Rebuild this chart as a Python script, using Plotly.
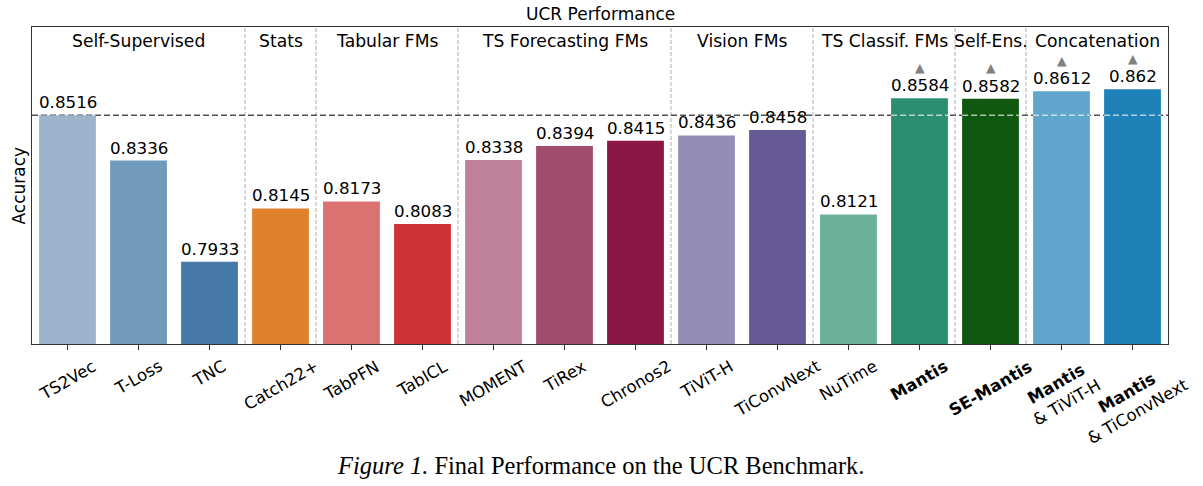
import plotly.graph_objects as go

# data
models = ["TS2Vec", "T-Loss", "TNC", "Catch22+", "TabPFN", "TabICL", "MOMENT", "TiRex",
          "Chronos2", "TiViT-H", "TiConvNext", "NuTime", "Mantis", "SE-Mantis",
          "Mantis & TiViT-H", "Mantis & TiConvNext"]
tick_labels = ["TS2Vec", "T-Loss", "TNC", "Catch22+", "TabPFN", "TabICL", "MOMENT", "TiRex",
               "Chronos2", "TiViT-H", "TiConvNext", "NuTime", "<b>Mantis</b>", "<b>SE-Mantis</b>",
               "<b>Mantis</b><br>& TiViT-H", "<b>Mantis</b><br>& TiConvNext"]
accuracy = [0.8516, 0.8336, 0.7933, 0.8145, 0.8173, 0.8083, 0.8338, 0.8394,
            0.8415, 0.8436, 0.8458, 0.8121, 0.8584, 0.8582, 0.8612, 0.862]
value_text = ["0.8516", "0.8336", "0.7933", "0.8145", "0.8173", "0.8083", "0.8338", "0.8394",
              "0.8415", "0.8436", "0.8458", "0.8121", "0.8584", "0.8582", "0.8612", "0.862"]
improved = [False] * 12 + [True] * 4
colors = ["#9db5cc", "#7099ba", "#4779a8", "#e0812e", "#da7272", "#cd3336", "#be8199", "#a24c6e",
          "#8b1645", "#948db6", "#665a96", "#6db09a", "#2c8e71", "#10570f", "#60a5cb", "#1e81b8"]
groups = ["Self-Supervised", "Stats", "Tabular FMs", "TS Forecasting FMs", "Vision FMs",
          "TS Classif. FMs", "Self-Ens.", "Concatenation"]
group_sizes = [3, 1, 2, 3, 2, 2, 1, 2]
baseline = accuracy[0]

x = list(range(len(models)))

fig = go.Figure()
fig.add_trace(go.Bar(x=x, y=accuracy, marker=dict(color=colors, line=dict(width=0)),
                     width=0.8, showlegend=False, hoverinfo="x+y"))

font = dict(family="DejaVu Sans", color="black")

# value labels, triangles, rotated tick labels
for i, v in enumerate(accuracy):
    fig.add_annotation(x=i, y=v, text=value_text[i], showarrow=False, yanchor="bottom",
                       yshift=1, font=dict(font, size=16.7))
    if improved[i]:
        fig.add_annotation(x=i, y=v, text="▲", showarrow=False, yanchor="middle",
                           yshift=31, font=dict(family="DejaVu Sans", size=12.5, color="#808080"))
    fig.add_annotation(x=i, y=0, yref="paper", text=tick_labels[i], showarrow=False,
                       textangle=-30, xanchor="center", yanchor="top", yshift=-10,
                       font=dict(font, size=16.5))

# group labels and separators
start = 0
for g, n in zip(groups, group_sizes):
    center = start + (n - 1) / 2
    fig.add_annotation(x=center, y=0.957, yref="paper", text=g, showarrow=False,
                       yanchor="middle", font=dict(font, size=17.2))
    start += n
    if start < len(models):
        fig.add_shape(type="line", x0=start - 0.5, x1=start - 0.5, y0=0, y1=1, yref="paper",
                      line=dict(color="#b0b0b0", width=1, dash="4px,2px"), layer="below")

# baseline reference line
fig.add_shape(type="line", x0=0, x1=1, xref="paper", y0=baseline, y1=baseline,
              line=dict(color="#505050", width=1.5, dash="6px,3px"), layer="below")
for i, v in enumerate(accuracy):
    if v > baseline:
        fig.add_shape(type="line", x0=i - 0.4, x1=i + 0.4, y0=baseline, y1=baseline,
                      line=dict(color="rgba(255,255,255,0.65)", width=1.5, dash="6px,3px"))

fig.add_annotation(x=0.5, y=1, xref="paper", yref="paper", text="UCR Performance",
                   showarrow=False, yanchor="bottom", yshift=1, font=dict(font, size=17))
fig.add_annotation(x=-14 / 1136, y=0.5, xref="paper", yref="paper", text="Accuracy",
                   showarrow=False, textangle=-90, xanchor="center", yanchor="middle",
                   font=dict(font, size=17))
fig.add_annotation(x=0.5, y=-0.383, xref="paper", yref="paper",
                   text="<i>Figure 1.</i> Final Performance on the UCR Benchmark.",
                   showarrow=False, xanchor="center", yanchor="middle",
                   font=dict(family="Liberation Serif", size=24.5, color="black"))

fig.update_xaxes(range=[-0.5, len(models) - 0.5], tickmode="array", tickvals=x,
                 showticklabels=False, ticks="outside", ticklen=5, tickcolor="#333333",
                 showline=True, linecolor="#333333", linewidth=1.2, mirror=True,
                 showgrid=False, zeroline=False, automargin=False)
fig.update_yaxes(range=[0.7605, 0.8868], showticklabels=False, ticks="", showline=True,
                 linecolor="#333333", linewidth=1.2, mirror=True, showgrid=False,
                 zeroline=False, automargin=False)

fig.update_layout(width=1203, height=486, plot_bgcolor="white", paper_bgcolor="white",
                  margin=dict(l=32, r=35, t=27, b=142), bargap=0.2, font=font)

# drop the default body margin so the figure fills the window
fig.write_html("out.html", config={"displayModeBar": False},
               post_script="document.body.style.margin = '0';")
